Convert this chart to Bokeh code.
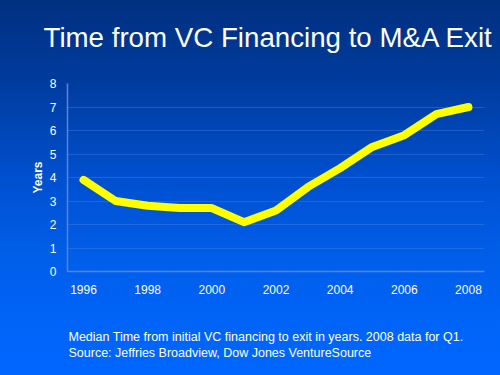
from bokeh.plotting import figure
from bokeh.models import Title, Range1d, FixedTicker
from bokeh.embed import file_html
from bokeh.resources import INLINE

years = [1996, 1997, 1998, 1999, 2000, 2001, 2002, 2003, 2004, 2005, 2006, 2007, 2008]
median_years = [3.9, 3.0, 2.8, 2.7, 2.7, 2.1, 2.6, 3.6, 4.4, 5.3, 5.8, 6.7, 7.0]
x_ticks = [1996, 1998, 2000, 2002, 2004, 2006, 2008]
y_ticks = [0, 1, 2, 3, 4, 5, 6, 7, 8]

title_text = "Time from VC Financing to M&A Exit"
caption_1 = "Median Time from initial VC financing to exit in years. 2008 data for Q1."
caption_2 = "Source: Jeffries Broadview, Dow Jones VentureSource"

FONT = "Liberation Sans"

p = figure(width=500, height=375, output_backend="svg", toolbar_location=None,
           x_range=Range1d(1995.5, 2008.5), y_range=Range1d(0, 8),
           min_border_left=67, min_border_right=16, min_border_top=83, min_border_bottom=104)
p.styles = {"background": "linear-gradient(180deg, #003080 0%, #003c9e 22%, #0050d0 48%, #005ee8 68%, #0064f8 85%, #0066ff 100%)"}
p.background_fill_color = None
p.border_fill_color = None
p.outline_line_color = None

p.line(years, median_years, line_color="#ffff00", line_width=8,
       line_cap="round", line_join="round")

for ax in (p.xaxis[0], p.yaxis[0]):
    ax.axis_line_color = "#5d82d6"
    ax.axis_line_width = 1.5
    ax.major_tick_line_color = None
    ax.minor_tick_line_color = None
    ax.major_tick_out = 0
    ax.major_tick_in = 0
    ax.minor_tick_out = 0
    ax.major_label_text_color = "white"
    ax.major_label_text_font = FONT
    ax.major_label_text_font_size = "12px"

p.xaxis.ticker = FixedTicker(ticks=x_ticks)
p.yaxis.ticker = FixedTicker(ticks=y_ticks)
p.xaxis.major_label_standoff = 13
p.yaxis.major_label_standoff = 11
p.yaxis.axis_label = "Years"
p.yaxis.axis_label_text_color = "white"
p.yaxis.axis_label_text_font = FONT
p.yaxis.axis_label_text_font_size = "12px"
p.yaxis.axis_label_text_font_style = "bold"
p.yaxis.axis_label_standoff = 2

p.xgrid.grid_line_color = None
p.ygrid.grid_line_color = "#5d8ae0"
p.ygrid.grid_line_alpha = 0.35

# spacer between frame and title, then the title itself
p.title.text = ""
p.add_layout(Title(text=" ", standoff=0, text_font_size="25px", text_color="white"), "above")
p.add_layout(Title(text=title_text, align="left", offset=-24, standoff=2,
                   text_color="white", text_font=FONT, text_font_size="27.7px",
                   text_font_style="normal"), "above")

# spacer below the x axis, then the two caption lines
p.add_layout(Title(text=" ", standoff=0, text_font_size="25px", text_color="white"), "below")
p.add_layout(Title(text=caption_1 + "\n" + caption_2, align="left", offset=1, standoff=2,
                   text_color="white", text_font=FONT, text_font_size="12.5px",
                   text_font_style="normal", text_line_height=1.2), "below")

open("out.html", "w").write(file_html(p, INLINE))
